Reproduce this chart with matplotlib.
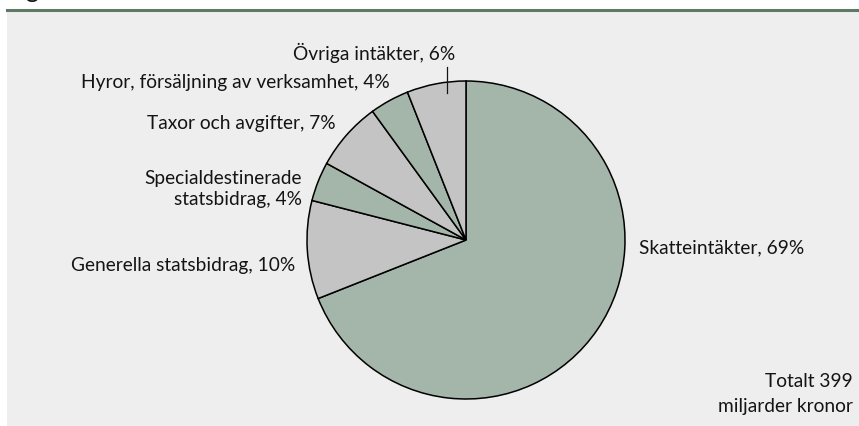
import numpy as np
import matplotlib.pyplot as plt
from matplotlib.patches import Rectangle
from matplotlib.lines import Line2D

plt.rcParams['font.family'] = ['Lato', 'DejaVu Sans']

# Intäkter, andel i procent
categories = ["Skatteintäkter", "Generella statsbidrag", "Specialdestinerade\nstatsbidrag",
              "Taxor och avgifter", "Hyror, försäljning av verksamhet", "Övriga intäkter"]
shares = [69, 10, 4, 7, 4, 6]
total_text = "Totalt 399\nmiljarder kronor"

green = "#a4b5aa"
grey = "#c4c4c4"
bg = "#edeeed"
txt = "#141414"

W, H = 859, 427
fig = plt.figure(figsize=(W / 100, H / 100), dpi=100)
fig.patch.set_facecolor("white")

# panel + green rule at the top
fig.patches.append(Rectangle((7 / W, 0), 1 - 7 / W, 1 - 12 / H, transform=fig.transFigure,
                             facecolor=bg, edgecolor="none", zorder=-5))
fig.lines.append(Line2D([7 / W, 1], [1 - 11 / H, 1 - 11 / H], transform=fig.transFigure,
                        color="#5c7a66", lw=2.2, zorder=-4))
# cut-off heading remnant
fig.text(25 / W, 1 + 2 / H, "g", fontsize=18, color=txt, va="baseline", ha="left")

cx, cy, r = 466, 241, 159
ax = fig.add_axes([(cx - r) / W, (H - cy - r) / H, 2 * r / W, 2 * r / H])
ax.set_facecolor("none")
ax.set_zorder(2)
colors = [green, grey, green, grey, green, grey]
ax.pie(shares, colors=colors, startangle=90, counterclock=False,
       wedgeprops=dict(edgecolor="black", linewidth=1.1))
ax.set_xlim(-1, 1)
ax.set_ylim(-1, 1)
ax.set_axis_off()

labels = [f"{c}, {s}%" for c, s in zip(categories, shares)]

# pick a font size so the label widths come close to the original print
renderer = fig.canvas.get_renderer()
target_w = {0: 165, 1: 228, 3: 184, 4: 310}
scales = []
for i, w in target_w.items():
    t = fig.text(0, 0, labels[i], fontsize=10)
    scales.append(w / t.get_window_extent(renderer).width)
    t.remove()
fs = 10 * float(np.median(scales))

# (x, y, ha) in pie units
pos = [(1.088, -0.044, "left"),
       (-1.075, -0.151, "right"),
       (-1.03, 0.325, "right"),
       (-0.818, 0.736, "right"),
       (-0.478, 0.994, "right"),
       (-0.069, 1.182, "right")]
for lab, (x, y, ha) in zip(labels, pos):
    ax.text(x, y, lab, ha=ha, va="center", fontsize=fs, color=txt,
            multialignment="right", linespacing=1.3, clip_on=False)

# leader line for Övriga intäkter
ax.plot([-0.119, -0.119], [1.088, 0.925], color=txt, lw=0.9, clip_on=False)

fig.text(853 / W, 1 - 394 / H, total_text, ha="right", va="center", fontsize=fs,
         color=txt, multialignment="right", linespacing=1.6)

fig.savefig("out.png", dpi=100)
